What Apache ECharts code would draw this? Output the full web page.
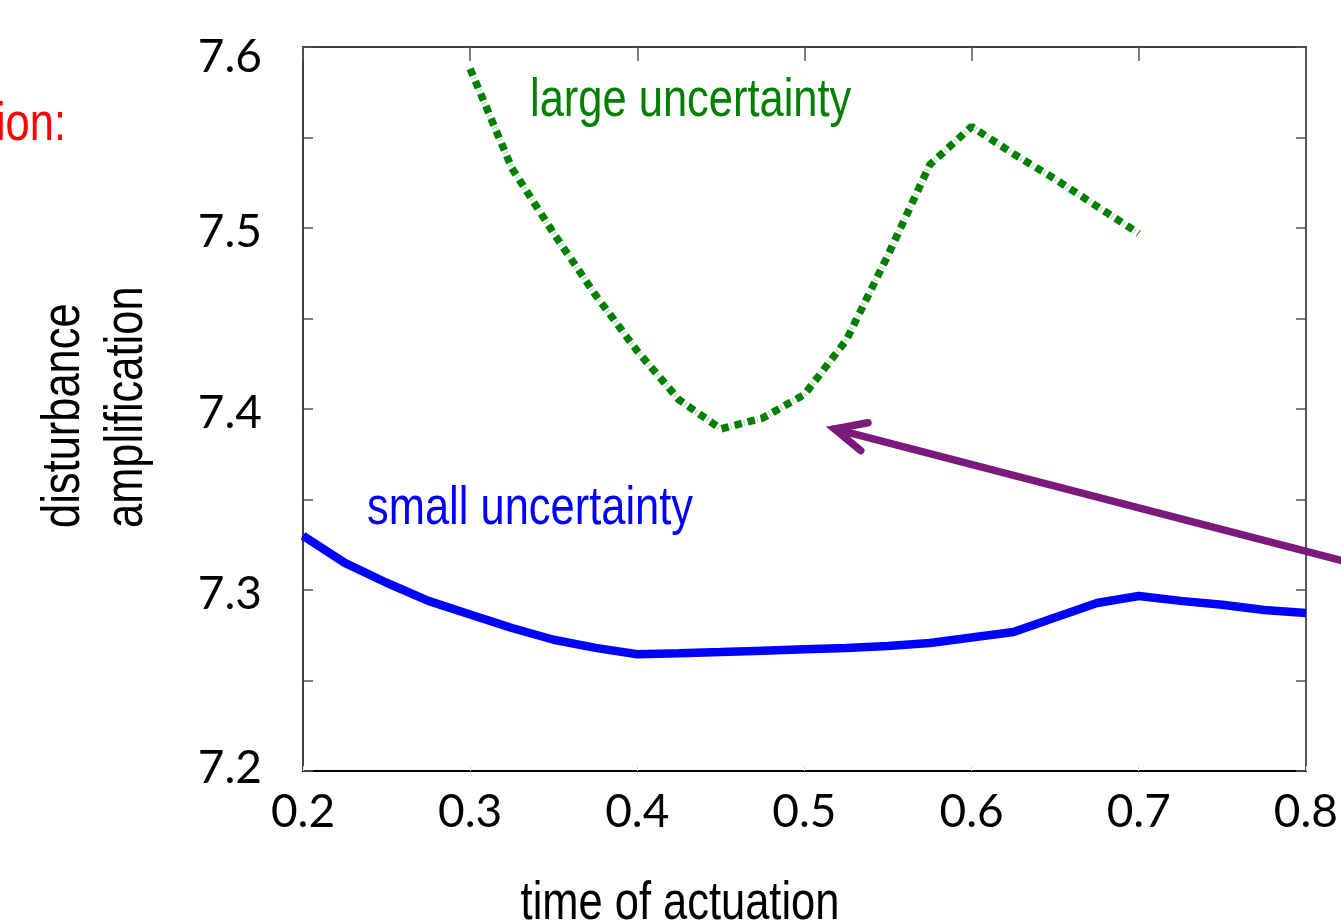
<!DOCTYPE html>
<html><head><meta charset="utf-8">
<script src="https://cdn.jsdelivr.net/npm/echarts@6/dist/echarts.min.js"></script>
<style>html,body{margin:0;padding:0;background:#fff;overflow:hidden}#c{width:1341px;height:924px}</style>
</head><body><div id="c"></div>
<script>
// ---- data ----
const timeValues = [0.2,0.225,0.25,0.275,0.3,0.325,0.35,0.375,0.4,0.425,0.45,0.475,0.5,0.525,0.55,0.575,0.6,0.625,0.65,0.675,0.7,0.725,0.75,0.775,0.8];
const smallUncertainty = [7.330,7.315,7.304,7.294,7.2865,7.279,7.2725,7.268,7.2645,7.265,7.2657,7.2665,7.2673,7.268,7.269,7.2707,7.2738,7.2768,7.2848,7.2928,7.2967,7.294,7.2918,7.289,7.2873];
const largeTimes = [0.3,0.325,0.35,0.375,0.4,0.425,0.45,0.475,0.5,0.525,0.55,0.575,0.6,0.625,0.65,0.675,0.7];
const largeUncertainty = [7.588,7.533,7.497,7.463,7.432,7.405,7.389,7.395,7.408,7.438,7.485,7.535,7.556,7.541,7.527,7.512,7.497];
const xTicks = [0.2,0.3,0.4,0.5,0.6,0.7,0.8];
const yTicks = [7.2,7.3,7.4,7.5,7.6];
const arrowTip = [0.518, 7.389];
const arrowTail = [0.858, 7.3075];
// ---- end data ----

const chart = echarts.init(document.getElementById('c'), null, {renderer:'canvas'});
const zip = (xs, ys) => xs.map((x,i)=>[x, ys[i]]);
const labelFont = 'Lato';
const labelSize = 46;
const narrow = '53px "Liberation Sans", Arial, sans-serif';

const yLabelRich = {
  top: {fontFamily: labelFont, fontSize: labelSize, color:'#000', padding:[20,0,0,0]},
  mid: {fontFamily: labelFont, fontSize: labelSize, color:'#000', padding:[8,0,0,0]},
  bot: {fontFamily: labelFont, fontSize: labelSize, color:'#000', padding:[0,0,6,0]}
};

chart.setOption({
  animation:false,
  backgroundColor:'#fff',
  grid:{left:303, top:47, right:33, bottom:153, containLabel:false},
  xAxis:[
    {type:'value', min:xTicks[0], max:xTicks[xTicks.length-1], interval:0.1, position:'bottom',
     axisLine:{show:true,onZero:false,lineStyle:{color:'#000',width:2}},
     axisTick:{show:true,inside:true,length:5,lineStyle:{color:'#ddd',width:1}},
     axisLabel:{fontFamily:labelFont,fontSize:labelSize,color:'#000',margin:18,formatter:v=>v.toFixed(1)},
     splitLine:{show:false}},
    {type:'value', min:xTicks[0], max:xTicks[xTicks.length-1], interval:0.1, position:'top',
     axisLine:{show:true,onZero:false,lineStyle:{color:'#000',width:1.5}},
     axisTick:{show:true,inside:true,length:14,lineStyle:{color:'#555',width:1.5}},
     axisLabel:{show:false}, splitLine:{show:false}}
  ],
  yAxis:[
    {type:'value', min:yTicks[0], max:yTicks[yTicks.length-1], interval:0.1, position:'left',
     axisLine:{show:true,onZero:false,lineStyle:{color:'#000',width:1.5}},
     axisTick:{show:true,inside:true,length:10,lineStyle:{color:'#555',width:1.5}},
     minorTick:{show:true,splitNumber:2,length:10,lineStyle:{color:'#555',width:1.5}},
     axisLabel:{margin:41, rich:yLabelRich, formatter:v=>{
        const t = v.toFixed(1);
        const k = Math.abs(v-7.6)<1e-6 ? 'top' : (Math.abs(v-7.2)<1e-6 ? 'bot' : 'mid');
        return '{'+k+'|'+t+'}';
     }},
     splitLine:{show:false}},
    {type:'value', min:yTicks[0], max:yTicks[yTicks.length-1], interval:0.1, position:'right',
     axisLine:{show:true,onZero:false,lineStyle:{color:'#555',width:2}},
     axisTick:{show:true,inside:true,length:10,lineStyle:{color:'#555',width:1.5}},
     minorTick:{show:true,splitNumber:2,length:10,lineStyle:{color:'#555',width:1.5}},
     axisLabel:{show:false}, splitLine:{show:false}}
  ],
  series:[
    {name:'small uncertainty', type:'line', xAxisIndex:0, yAxisIndex:0, data:zip(timeValues, smallUncertainty),
     showSymbol:false, symbol:'none', lineStyle:{color:'#0000FF',width:8.5}, z:3},
    {name:'large uncertainty halo', type:'line', xAxisIndex:0, yAxisIndex:0, data:zip(largeTimes, largeUncertainty),
     showSymbol:false, symbol:'none', lineStyle:{color:'#a8d6a8',width:6,type:[1,12.5],dashOffset:4}, z:2},
    {name:'large uncertainty', type:'line', xAxisIndex:0, yAxisIndex:0, data:zip(largeTimes, largeUncertainty),
     showSymbol:false, symbol:'none', lineStyle:{color:'#007F00',width:7.5,type:[7.5,6],cap:'butt'}, z:3}
  ]
});

const tip = chart.convertToPixel({gridIndex:0}, arrowTip);
const tail = chart.convertToPixel({gridIndex:0}, arrowTail);
const ang = Math.atan2(tail[1]-tip[1], tail[0]-tip[0]);
const bl = 34, ba = 25*Math.PI/180;
const b1 = [tip[0]+bl*Math.cos(ang-ba), tip[1]+bl*Math.sin(ang-ba)];
const b2 = [tip[0]+bl*Math.cos(ang+ba), tip[1]+bl*Math.sin(ang+ba)];
const purple = '#7B1A7B';

function txt(text, x, y, color, align, rot){
  return {type:'text', x:x, y:y, rotation:rot||0, scaleX:0.82, z:10,
    style:{text:text, fill:color, font:narrow, textAlign:align, align:align,
           textVerticalAlign:'middle', verticalAlign:'middle'}};
}

chart.setOption({graphic:[
  {type:'polyline', z:8, shape:{points:[tip, tail]}, style:{stroke:purple, lineWidth:7.5, lineCap:'round', fill:null}},
  {type:'polyline', z:8, shape:{points:[b1, tip, b2]}, style:{stroke:purple, lineWidth:7.5, lineCap:'round', lineJoin:'miter', fill:null}},
  txt('large uncertainty', 530, 101, '#008000', 'left'),
  txt('small uncertainty', 367, 509, '#0000FF', 'left'),
  txt('ion:', 66, 125, '#FF0000', 'right'),
  txt('time of actuation', 680, 904, '#000', 'center'),
  txt('disturbance', 64, 528, '#000', 'left', Math.PI/2),
  txt('amplification', 127, 528, '#000', 'left', Math.PI/2)
]});
</script></body></html>
